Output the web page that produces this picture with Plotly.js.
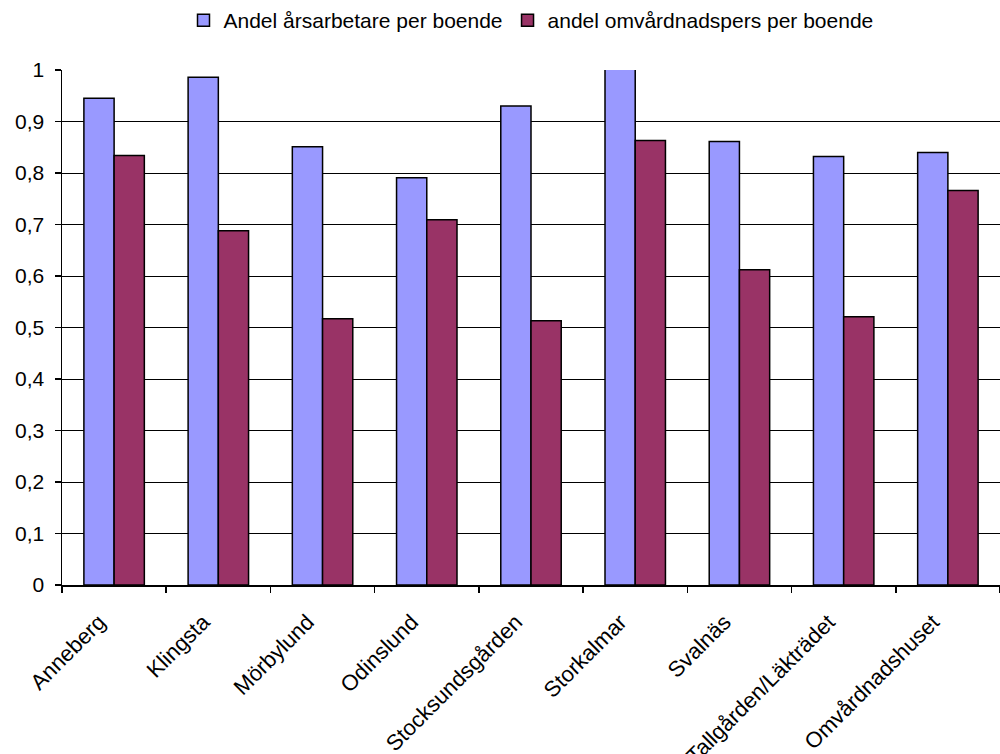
<!DOCTYPE html>
<html><head><meta charset="utf-8">
<script src="https://cdn.plot.ly/plotly-3.0.1.min.js"></script>
<style>html,body{margin:0;padding:0;background:#fff}</style>
</head><body>
<div id="chart" style="width:1000px;height:754px"></div>
<script>
const categories = ["Anneberg","Klingsta","Mörbylund","Odinslund","Stocksundsgården","Storkalmar","Svalnäs","Tallgården/Läkträdet","Omvårdnadshuset"];
const arsarbetare = [0.945,0.986,0.851,0.791,0.930,1.05,0.861,0.832,0.840];
const omvardnad = [0.834,0.688,0.517,0.709,0.513,0.863,0.612,0.521,0.766];
const seriesNames = ["Andel årsarbetare per boende","andel omvårdnadspers per boende"];

const font = {family:"Liberation Sans, Arial, sans-serif", size:21, color:"#000"};
const xfont = {family:"Liberation Sans, Arial, sans-serif", size:22, color:"#000"};
const data = [
  {type:"bar", x:categories, y:arsarbetare, name:seriesNames[0],
   marker:{color:"#9999ff", line:{color:"#000", width:1.5}}},
  {type:"bar", x:categories, y:omvardnad, name:seriesNames[1],
   marker:{color:"#993366", line:{color:"#000", width:1.5}}}
];
const layout = {
  width:1000, height:754,
  margin:{l:62, r:0, t:70, b:169},
  font:font,
  separators:", ",
  paper_bgcolor:"#fff", plot_bgcolor:"#fff",
  barmode:"group", bargap:0.42, bargroupgap:0,
  showlegend:true,
  legend:{orientation:"h", x:0.5, xanchor:"center", y:1, yref:"container", yanchor:"top",
          font:font, itemwidth:30, tracegroupgap:0},
  xaxis:{type:"category", showline:true, linecolor:"#000", linewidth:1.5,
         ticks:"outside", ticklen:6, tickcolor:"#000", tickwidth:1.5, tickson:"boundaries",
         tickangle:-45, tickfont:xfont, showgrid:false, zeroline:false,
         ticklabelshift:-15, ticklabelstandoff:14},
  yaxis:{range:[0,1], dtick:0.1, tick0:0, showline:true, linecolor:"#000", linewidth:1.5,
         ticks:"outside", ticklen:6, tickcolor:"#000", tickwidth:1.5, ticklabelstandoff:6,
         showgrid:true, gridcolor:"#000", gridwidth:1, zeroline:false, tickfont:font}
};
Plotly.newPlot("chart", data, layout, {displayModeBar:false, staticPlot:true});
</script>
</body></html>
